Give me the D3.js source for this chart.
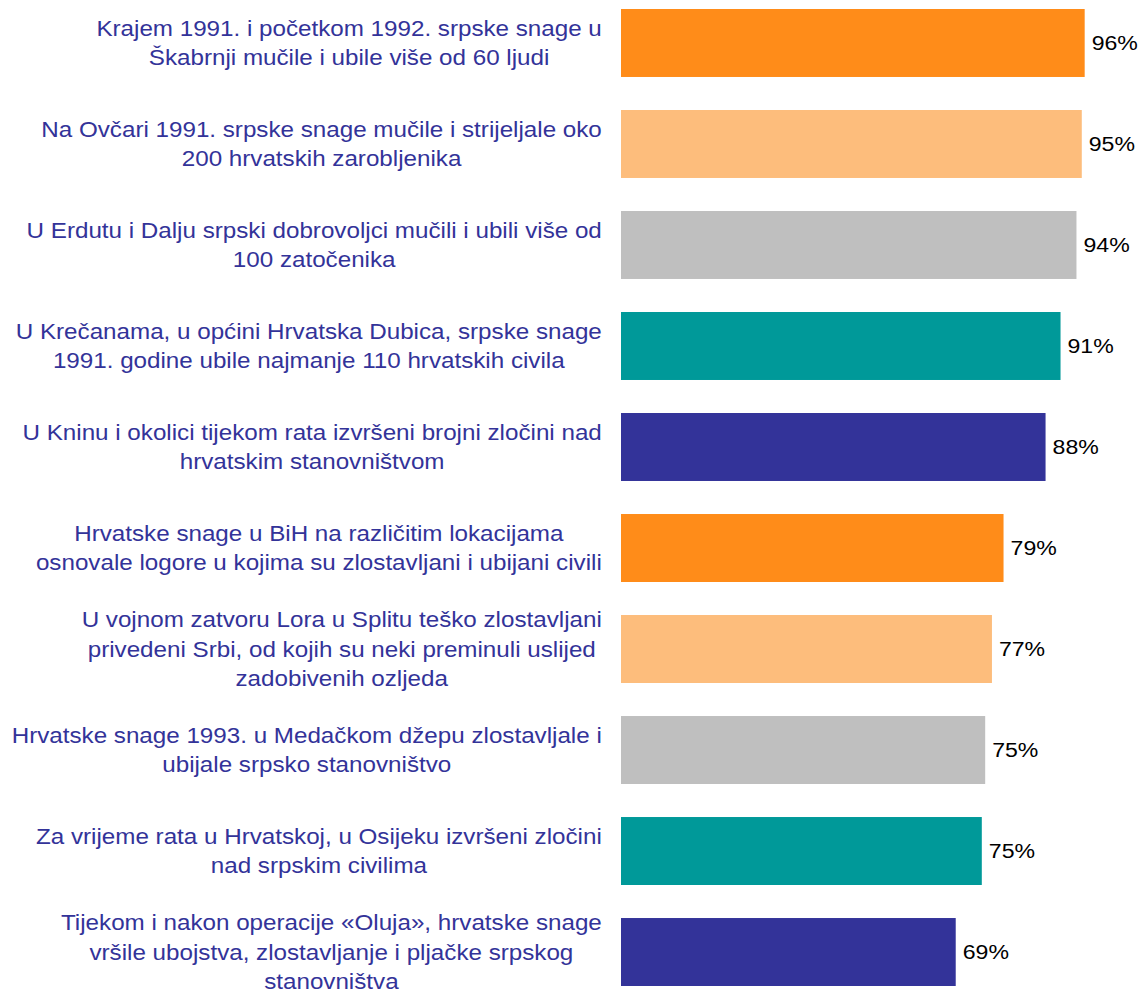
<!DOCTYPE html>
<html>
<head>
<meta charset="utf-8">
<script src="https://cdn.jsdelivr.net/npm/d3@7"></script>
<style>
  body { margin: 0; background: #fff; }
  svg { display: block; }
</style>
</head>
<body>
<div id="chart"></div>
<script>
// data
var categories = [
    "Krajem 1991. i početkom 1992. srpske snage u|Škabrnji mučile i ubile više od 60 ljudi",
    "Na Ovčari 1991. srpske snage mučile i strijeljale oko|200 hrvatskih zarobljenika",
    "U Erdutu i Dalju srpski dobrovoljci mučili i ubili više od|100 zatočenika",
    "U Krečanama, u općini Hrvatska Dubica, srpske snage|1991. godine ubile najmanje 110 hrvatskih civila",
    "U Kninu i okolici tijekom rata izvršeni brojni zločini nad|hrvatskim stanovništvom",
    "Hrvatske snage u BiH na različitim lokacijama|osnovale logore u kojima su zlostavljani i ubijani civili",
    "U vojnom zatvoru Lora u Splitu teško zlostavljani|privedeni Srbi, od kojih su neki preminuli uslijed|zadobivenih ozljeda",
    "Hrvatske snage 1993. u Medačkom džepu zlostavljale i|ubijale srpsko stanovništvo",
    "Za vrijeme rata u Hrvatskoj, u Osijeku izvršeni zločini|nad srpskim civilima",
    "Tijekom i nakon operacije «Oluja», hrvatske snage|vršile ubojstva, zlostavljanje i pljačke srpskog|stanovništva"
];
var values = [96, 95.4, 94.3, 91, 87.9, 79.2, 76.8, 75.4, 74.7, 69.3];
var valueLabels = ["96%", "95%", "94%", "91%", "88%", "79%", "77%", "75%", "75%", "69%"];
var barColors = ["#FF8C19", "#FDBD7C", "#BFBFBF", "#009999", "#333399"];

var width = 1144, height = 992;
var labelColor = "#333399";
var stretch = 1.1; // text in the original is a bit wide

var svg = d3.select("#chart").append("svg")
    .attr("width", width)
    .attr("height", height);

var x = d3.scaleLinear().domain([0, 100]).range([621, 1104]);
var y = d3.scaleBand().domain(d3.range(categories.length))
    .range([9, 986]).paddingInner(0.327).paddingOuter(0);

var rows = categories.map((c, i) => ({
    lines: c.split("|"),
    value: values[i],
    label: valueLabels[i],
    color: barColors[i % barColors.length]
}));

// bars
svg.selectAll("rect.bar")
    .data(rows)
    .enter()
    .append("rect")
    .attr("class", "bar")
    .attr("x", x(0))
    .attr("y", (d, i) => y(i))
    .attr("width", d => x(d.value) - x(0))
    .attr("height", y.bandwidth())
    .attr("fill", d => d.color);

// value labels
svg.selectAll("text.val")
    .data(rows)
    .enter()
    .append("text")
    .attr("class", "val")
    .attr("transform", (d, i) => `translate(${x(d.value) + 7},${y(i) + y.bandwidth() / 2}) scale(${stretch},1)`)
    .attr("dy", "0.35em")
    .attr("font-family", "Liberation Sans, Arial, sans-serif")
    .attr("font-size", "21px")
    .attr("fill", "#000")
    .text(d => d.label);

// category labels, centred on their own longest line, right edge at 602
var lineH = 29.5;
var cat = svg.selectAll("text.cat")
    .data(rows)
    .enter()
    .append("text")
    .attr("class", "cat")
    .attr("font-family", "Liberation Sans, Arial, sans-serif")
    .attr("font-size", "22px")
    .attr("fill", labelColor)
    .attr("text-anchor", "middle");

cat.each(function(d, i) {
    var t = d3.select(this);
    var cy = y(i) + y.bandwidth() / 2;
    var top = cy - (d.lines.length - 1) * lineH / 2;
    d.lines.forEach((ln, j) => {
        t.append("tspan")
            .attr("x", 0)
            .attr("y", top + j * lineH)
            .attr("dy", "0.35em")
            .text(ln);
    });
    var maxW = d3.max(t.selectAll("tspan").nodes(), n => n.getComputedTextLength()) * stretch;
    t.attr("transform", `translate(${602 - maxW / 2},0) scale(${stretch},1)`);
});
</script>
</body>
</html>
